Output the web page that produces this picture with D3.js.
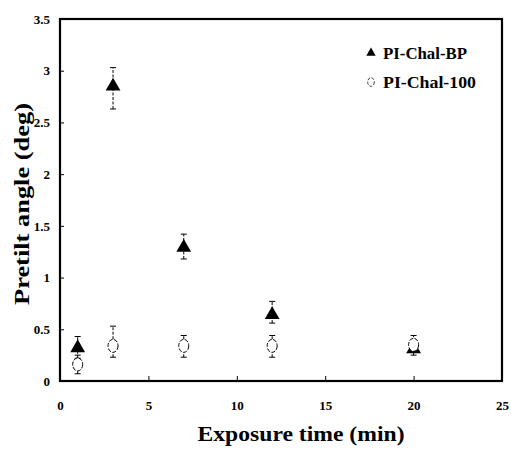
<!DOCTYPE html>
<html><head><meta charset="utf-8">
<script src="https://cdn.jsdelivr.net/npm/d3@7"></script>
<style>body{margin:0;background:#fff}svg{display:block}text{font-family:"Liberation Serif","Times New Roman",serif;font-weight:bold}</style>
</head><body>
<script>
const xTicks = [0, 5, 10, 15, 20, 25];
const yTicks = [0, 0.5, 1, 1.5, 2, 2.5, 3, 3.5];
const yTickLabels = ["0", "0.5", "1", "1.5", "2", "2.5", "3", "3.5"];
const times = [1, 3, 7, 12, 20];
const seriesNames = ["PI-Chal-BP", "PI-Chal-100"];
const bpValues = [0.33, 2.86, 1.30, 0.65, 0.32];
const bpLow = [0.22, 2.63, 1.18, 0.56, 0.28];
const bpHigh = [0.43, 3.03, 1.42, 0.77, 0.38];
const c100Values = [0.16, 0.34, 0.34, 0.34, 0.35];
const c100Low = [0.07, 0.23, 0.23, 0.23, 0.25];
const c100High = [0.25, 0.53, 0.44, 0.44, 0.44];

const W = 511, H = 452;
const m = {l: 60, t: 19, r: 9, b: 71};
const svg = d3.select("body").append("svg").attr("width", W).attr("height", H);
const x = d3.scaleLinear().domain([0, 25]).range([m.l, W - m.r]);
const y = d3.scaleLinear().domain([0, 3.5]).range([H - m.b, m.t]);

svg.append("rect").attr("x", x(0)).attr("y", y(3.5)).attr("width", x(25) - x(0)).attr("height", y(0) - y(3.5))
  .attr("fill", "none").attr("stroke", "#000").attr("stroke-width", 2.2);

const xAxis = d3.axisBottom(x).tickValues(xTicks).tickSize(-5).tickPadding(20).tickFormat(d3.format("d"));
const gx = svg.append("g").attr("transform", `translate(0,${y(0)})`).call(xAxis);
const yAxis = d3.axisLeft(y).tickValues(yTicks).tickSize(-4).tickPadding(10).tickFormat((d, i) => yTickLabels[i]);
const gy = svg.append("g").attr("transform", `translate(${x(0)},0)`).call(yAxis);
[gx, gy].forEach(g => {
  g.select(".domain").remove();
  g.attr("font-family", null).attr("font-size", null);
  g.selectAll(".tick line").attr("stroke", "#000").attr("stroke-width", 1);
  g.selectAll(".tick text").style("font-size", "13px").attr("fill", "#000");
});
gx.selectAll(".tick").filter(d => d === 0 || d === 25).select("line").remove();
gy.selectAll(".tick").filter(d => d === 0 || d === 3.5).select("line").remove();

svg.append("text").attr("x", 301).attr("y", 441).attr("text-anchor", "middle")
  .style("font-size", "21px").attr("textLength", 207)
  .attr("lengthAdjust", "spacingAndGlyphs").text("Exposure time (min)");
svg.append("text").attr("transform", `translate(29,${(m.t + H - m.b) / 2 + 4}) rotate(-90)`).attr("text-anchor", "middle")
  .style("font-size", "22px").attr("textLength", 202)
  .attr("lengthAdjust", "spacingAndGlyphs").text("Pretilt angle (deg)");

const tri = d3.symbol().type(d3.symbolTriangle).size(95);

function errorBars(vals, lo, hi) {
  const g = svg.append("g").attr("stroke", "#000").attr("stroke-width", 1);
  times.forEach((t, i) => {
    const cx = x(t);
    g.append("line").attr("x1", cx).attr("x2", cx).attr("y1", y(lo[i])).attr("y2", y(hi[i])).attr("stroke-dasharray", "3,1.5");
    g.append("line").attr("x1", cx - 3).attr("x2", cx + 3).attr("y1", y(lo[i])).attr("y2", y(lo[i]));
    g.append("line").attr("x1", cx - 3).attr("x2", cx + 3).attr("y1", y(hi[i])).attr("y2", y(hi[i]));
  });
}
errorBars(bpValues, bpLow, bpHigh);
errorBars(c100Values, c100Low, c100High);

svg.append("g").selectAll("path").data(times).join("path")
  .attr("d", tri).attr("transform", (d, i) => `translate(${x(d)},${y(bpValues[i]) + 1})`).attr("fill", "#000");
svg.append("g").selectAll("ellipse").data(times).join("ellipse")
  .attr("cx", d => x(d)).attr("cy", (d, i) => y(c100Values[i])).attr("rx", 5).attr("ry", 6.5)
  .attr("fill", "#fff").attr("stroke", "#000").attr("stroke-width", 1).attr("stroke-dasharray", "4,1.5");

const lg = svg.append("g");
lg.append("path").attr("d", d3.symbol().type(d3.symbolTriangle).size(38)).attr("transform", "translate(371,53)").attr("fill", "#000");
lg.append("ellipse").attr("cx", 371).attr("cy", 82).attr("rx", 3.3).attr("ry", 4.3).attr("fill", "#fff")
  .attr("stroke", "#000").attr("stroke-width", 0.8).attr("stroke-dasharray", "3,1.5");
lg.selectAll("text").data(seriesNames).join("text")
  .attr("x", 383).attr("y", (d, i) => 59 + i * 29)
  .style("font-size", "17px").attr("textLength", (d, i) => i === 0 ? 84 : 93)
  .attr("lengthAdjust", "spacingAndGlyphs").text(d => d);
</script>
</body></html>
